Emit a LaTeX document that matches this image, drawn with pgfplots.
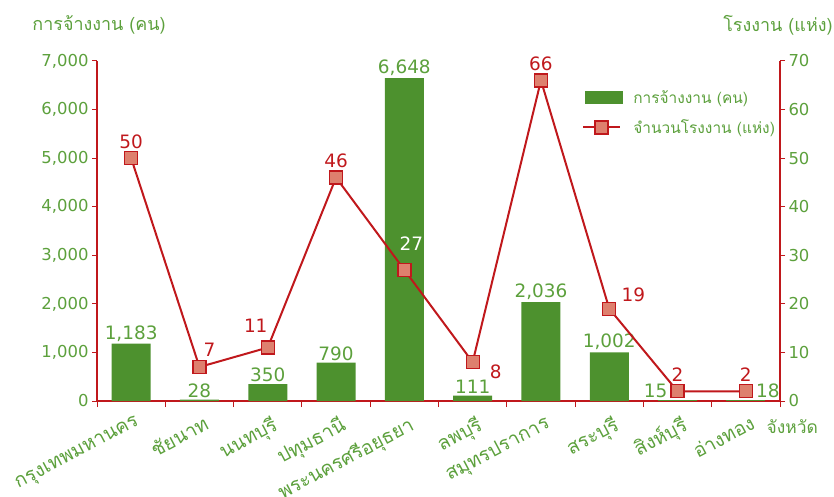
\documentclass[border=0pt]{standalone}
\usepackage{pgfplots}
\pgfplotsset{compat=1.18}
\usepackage{fontspec}
\setmainfont{Loma}[Script=Thai]
\newfontfamily\numfont{DejaVu Sans}
\definecolor{bargreen}{RGB}{77,145,46}
\definecolor{txtgreen}{RGB}{92,160,60}
\definecolor{linered}{RGB}{192,24,28}
\definecolor{mkfill}{RGB}{222,128,110}
\newcommand{\fs}[1]{\fontsize{#1}{#1}\selectfont}
\tikzset{vlab/.style={font=\numfont\fs{18.5}}}
\begin{document}
\begin{tikzpicture}
\pgfplotsset{
  common/.style={
    scale only axis, width=683bp, height=340bp,
    xmin=0, xmax=10,
    /pgf/number format/assume math mode=true,
    /pgf/number format/1000 sep={,},
    tick align=outside,
    axis line style={linered, line width=1.2pt, -},
    tick style={linered, line width=1pt},
    major tick length=5bp, minor tick length=6bp,
    clip=false,
  },
}
\begin{axis}[common,
  ymin=0, ymax=7000,
  axis x line*=bottom, axis y line*=left,
  ytick={0,1000,...,7000},
  y tick label style={text=txtgreen, font=\numfont\fs{16.5}},
  xtick={0.5,1.5,2.5,3.5,4.5,5.5,6.5,7.5,8.5,9.5},
  xticklabels={กรุงเทพมหานคร,ชัยนาท,นนทบุรี,ปทุมธานี,พระนครศรีอยุธยา,ลพบุรี,สมุทรปราการ,สระบุรี,สิงห์บุรี,อ่างทอง},
  major x tick style={draw=none},
  minor xtick={0,1,...,10},
  x tick label style={rotate=28, anchor=north east, text=txtgreen, font=\fs{19.5}, inner sep=1pt, yshift=-8bp},
  ybar, bar width=39bp,
]
\addplot[fill=bargreen, draw=none, bar shift=0pt,
  nodes near coords, every node near coord/.append style={text=txtgreen, vlab, inner sep=2pt}]
  coordinates {(0.5,1183) (1.5,28) (2.5,350) (3.5,790) (4.5,6648) (5.5,111) (6.5,2036) (7.5,1002)};
\addplot[fill=bargreen, draw=none, bar shift=0pt, forget plot,
  nodes near coords, every node near coord/.append style={text=txtgreen, vlab, inner sep=2pt, xshift=-22bp}]
  coordinates {(8.5,15)};
\addplot[fill=bargreen, draw=none, bar shift=0pt, forget plot,
  nodes near coords, every node near coord/.append style={text=txtgreen, vlab, inner sep=2pt, xshift=22bp}]
  coordinates {(9.5,18)};
\node[text=txtgreen, font=\fs{18}] at (rel axis cs:0.003,1.106) {การจ้างงาน (คน)};
\node[text=txtgreen, font=\fs{17.5}] at (rel axis cs:1.018,-0.076) {จังหวัด};
\end{axis}
\begin{axis}[common,
  ymin=0, ymax=70,
  axis x line=none, axis y line*=right,
  ytick={0,10,...,70},
  y tick label style={text=txtgreen, font=\numfont\fs{16.5}},
  legend style={at={(0.71,0.92)}, anchor=north west, draw=none, fill=none,
    font=\fs{15.5}, text=txtgreen, row sep=11bp, column sep=9bp, inner sep=0pt},
  legend cell align=left,
]
\addlegendimage{legend image code/.code={\fill[bargreen] (0bp,-6bp) rectangle (37bp,6bp);}}
\addlegendentry{การจ้างงาน (คน)}
\addplot[linered, line width=2pt, mark=square*, mark size=6.5bp,
  mark options={fill=mkfill, draw=linered, line width=1.3pt},
  legend image code/.code={\draw[linered, line width=2pt] (-2bp,0bp) -- (35bp,0bp);
    \draw[linered, fill=mkfill, line width=1.3pt] (10bp,-6.5bp) rectangle (23bp,6.5bp);}]
  coordinates {(0.5,50) (1.5,7) (2.5,11) (3.5,46) (4.5,27) (5.5,8) (6.5,66) (7.5,19) (8.5,2) (9.5,2)};
\addlegendentry{จำนวนโรงงาน (แห่ง)}
% labels: above
\addplot[draw=none, mark=none, forget plot, nodes near coords,
  every node near coord/.append style={text=linered, vlab, anchor=south, yshift=6bp}]
  coordinates {(0.5,50) (3.5,46) (6.5,66) (8.5,2) (9.5,2)};
% above right
\addplot[draw=none, mark=none, forget plot, nodes near coords,
  every node near coord/.append style={text=linered, vlab, anchor=south, xshift=10bp, yshift=7bp}]
  coordinates {(1.5,7)};
\addplot[draw=none, mark=none, forget plot, nodes near coords,
  every node near coord/.append style={text=white, vlab, anchor=south, xshift=7bp, yshift=16bp}]
  coordinates {(4.5,27)};
\addplot[draw=none, mark=none, forget plot, nodes near coords,
  every node near coord/.append style={text=linered, vlab, anchor=south, xshift=24bp, yshift=3bp}]
  coordinates {(7.5,19)};
% above left
\addplot[draw=none, mark=none, forget plot, nodes near coords,
  every node near coord/.append style={text=linered, vlab, anchor=south, xshift=-12bp, yshift=12bp}]
  coordinates {(2.5,11)};
% right
\addplot[draw=none, mark=none, forget plot, nodes near coords,
  every node near coord/.append style={text=linered, vlab, anchor=center, xshift=23bp, yshift=-10bp}]
  coordinates {(5.5,8)};
\node[text=txtgreen, font=\fs{18}] at (rel axis cs:0.997,1.106) {โรงงาน (แห่ง)};
\end{axis}
\pgfresetboundingbox
\path (-97bp,-96bp) rectangle (737bp,401bp);
\end{tikzpicture}
\end{document}
